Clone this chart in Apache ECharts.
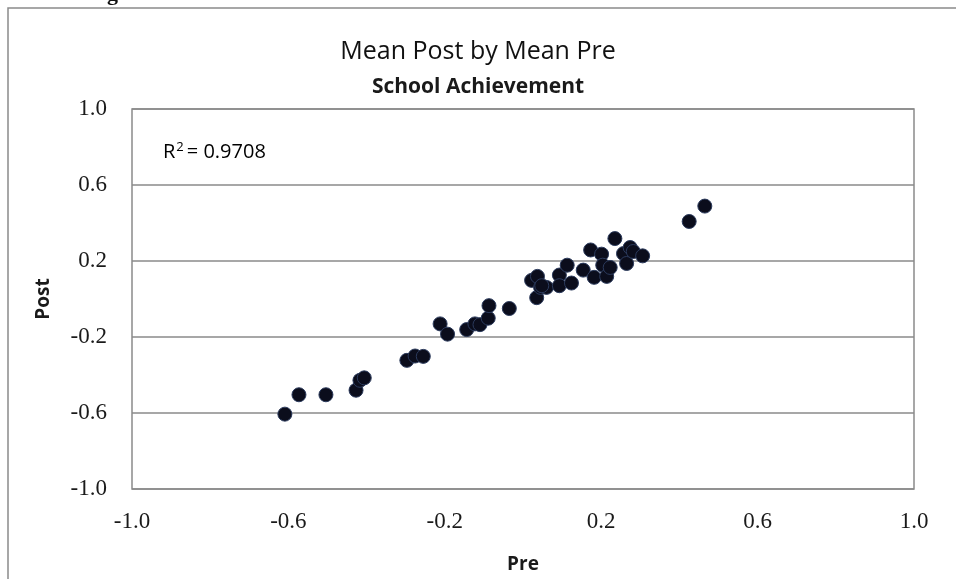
<!DOCTYPE html>
<html><head><meta charset="utf-8">
<script src="https://cdn.jsdelivr.net/npm/echarts@6/dist/echarts.min.js"></script>
<style>html,body{margin:0;padding:0;background:#fff}#c{width:956px;height:579px}</style>
</head><body><div id="c"></div>
<script>
const preValues = [-0.609,-0.573,-0.504,-0.427,-0.417,-0.406,-0.297,-0.276,-0.255,-0.212,-0.193,-0.144,-0.123,-0.110,-0.089,-0.087,-0.035,0.022,0.037,0.035,0.045,0.060,0.048,0.093,0.093,0.113,0.124,0.154,0.173,0.182,0.201,0.204,0.214,0.223,0.235,0.257,0.265,0.274,0.282,0.306,0.425,0.465];
const postValues = [-0.606,-0.504,-0.504,-0.480,-0.428,-0.415,-0.323,-0.300,-0.302,-0.131,-0.185,-0.161,-0.131,-0.135,-0.101,-0.035,-0.050,0.098,0.119,0.007,0.061,0.061,0.070,0.126,0.070,0.178,0.084,0.152,0.258,0.114,0.236,0.178,0.119,0.166,0.318,0.239,0.187,0.271,0.250,0.227,0.408,0.489];
const tickLabels = ['-1.0','-0.6','-0.2','0.2','0.6','1.0'];
const titleText = 'Mean Post by Mean Pre';
const subtitleText = 'School Achievement';
const r2Text = '0.9708';

const points = preValues.map((x,i)=>[x, postValues[i]]);
const fmt = v => { const s = v.toFixed(1); return tickLabels.includes(s) ? s : ''; };
const chart = echarts.init(document.getElementById('c'));
chart.setOption({
  animation:false,
  backgroundColor:'#fff',
  title:[
    {text:titleText, left:'center', top:34, textStyle:{fontFamily:'Open Sans, sans-serif', fontSize:25, fontWeight:'normal', color:'#111'}},
    {text:subtitleText, left:'center', top:72, textStyle:{fontFamily:'Open Sans, sans-serif', fontSize:21, fontWeight:'bold', color:'#1a1a1a'}}
  ],
  grid:{left:132, right:42, top:109, bottom:88, show:true, borderColor:'#8a8a8a', borderWidth:1.5, backgroundColor:'#fff'},
  xAxis:{type:'value', min:-1, max:1, interval:0.4,
    name:'Pre', nameLocation:'middle', nameGap:66,
    nameTextStyle:{fontFamily:'Open Sans, sans-serif', fontSize:19, fontWeight:'bold', color:'#1a1a1a'},
    axisLine:{show:false}, axisTick:{show:false}, splitLine:{show:false},
    axisLabel:{formatter:fmt, margin:21, fontFamily:'Liberation Serif, serif', fontSize:23, color:'#1a1a1a'}},
  yAxis:{type:'value', min:-1, max:1, interval:0.4,
    name:'Post', nameLocation:'middle', nameGap:79,
    nameTextStyle:{fontFamily:'Open Sans, sans-serif', fontSize:19, fontWeight:'bold', color:'#1a1a1a'},
    axisLine:{show:false}, axisTick:{show:false},
    splitLine:{show:true, lineStyle:{color:'#8a8a8a', width:1.5}},
    axisLabel:{formatter:fmt, margin:25, fontFamily:'Liberation Serif, serif', fontSize:23, color:'#1a1a1a'}},
  graphic:[
    {type:'rect', shape:{x:8, y:8, width:960, height:600}, style:{fill:'none', stroke:'#8a8a8a', lineWidth:1.5}, silent:true},
    {type:'text', left:107, top:-17, style:{text:'g', font:'bold 22px Liberation Serif, serif', fill:'#111'}},
    {type:'text', left:163, top:141, style:{text:'{a|R}{s|2}{a|= '+r2Text+'}', rich:{
      a:{fontFamily:'Open Sans, sans-serif', fontSize:20, color:'#333'},
      s:{fontFamily:'Open Sans, sans-serif', fontSize:13, verticalAlign:'top', padding:[0,3,9,1], color:'#333'}}}}
  ],
  series:[{type:'scatter', data:points, symbol:'circle', symbolSize:14,
    itemStyle:{color:'#0b0d1c', borderColor:'#2b3a5c', borderWidth:1, opacity:1}}]
});
</script></body></html>
